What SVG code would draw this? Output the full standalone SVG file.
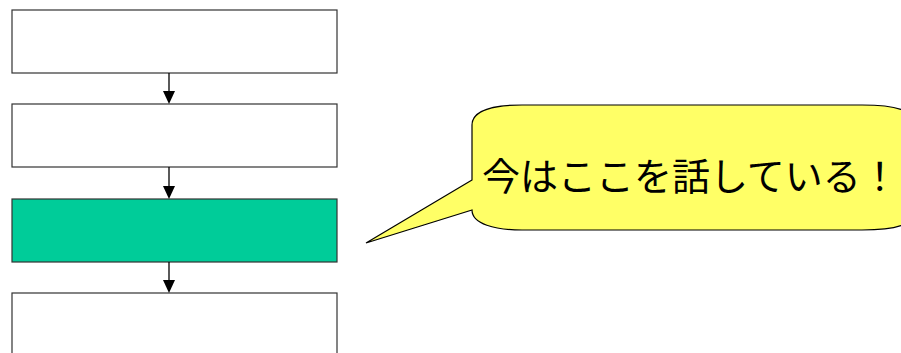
<svg xmlns="http://www.w3.org/2000/svg" width="901" height="353" viewBox="0 0 901 353">
<style>
.box{stroke:#333333;stroke-width:1.2}
.conn{stroke:#000000;stroke-width:1.3;fill:none}
.head{fill:#000000}
.callout{fill:#FFFF66;stroke:#000000;stroke-width:1.2}
.label{font-family:"Noto Sans CJK JP","Noto Sans CJK SC",sans-serif;font-size:38px;fill:#000000}
</style>
<rect width="901" height="353" fill="#ffffff"/>
<g id="node1"><rect class="box" x="12" y="10" width="325" height="63" fill="#ffffff"/></g>
<g id="node2"><rect class="box" x="12" y="104" width="325" height="63" fill="#ffffff"/></g>
<g id="node3"><rect class="box" x="12" y="199" width="325" height="63" fill="#00CC99"/></g>
<g id="node4"><rect class="box" x="12" y="293" width="325" height="70" fill="#ffffff"/></g>
<g id="connectors">
<line class="conn" x1="169" y1="73" x2="169" y2="92"/>
<polygon class="head" points="163,91 175,91 169,104"/>
<line class="conn" x1="169" y1="167" x2="169" y2="187"/>
<polygon class="head" points="163,186 175,186 169,199"/>
<line class="conn" x1="169" y1="262" x2="169" y2="281"/>
<polygon class="head" points="163,280 175,280 169,293"/>
</g>
<g id="callout">
<path class="callout" d="M472,180 L366,243 L472,210 C472,224 495,230 522,230 L862,230 C895,230 915,225 915,210 L915,125 C915,110 895,105 862,105 L522,105 C495,105 472,110 472,125 Z"/>
<text class="label" x="482" y="190">今はここを話している！</text>
</g>
</svg>
